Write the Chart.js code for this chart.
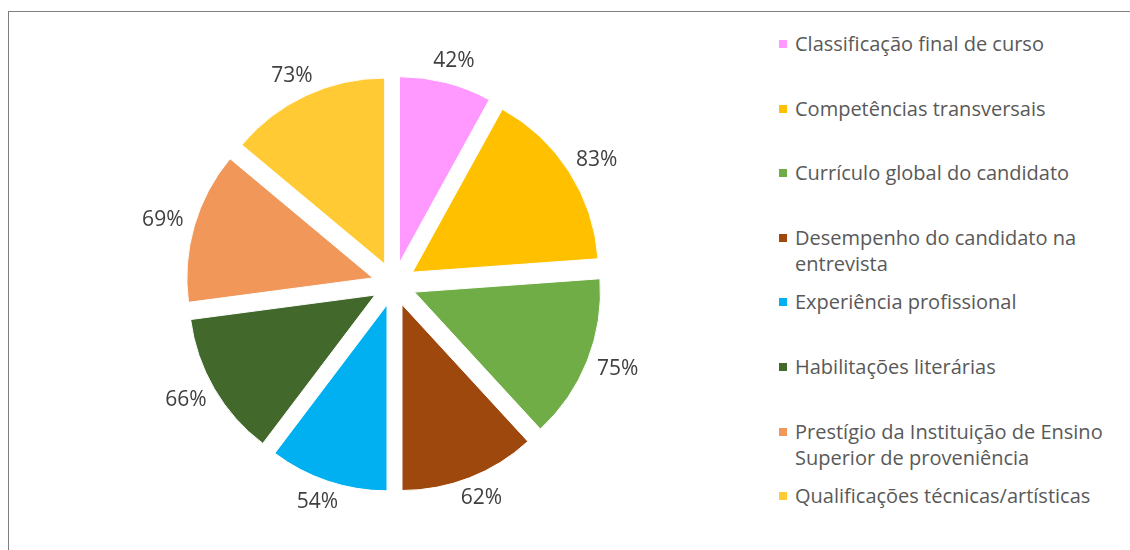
<!DOCTYPE html>
<html>
<head>
<meta charset="utf-8">
<script src="https://cdn.jsdelivr.net/npm/chart.js@4"></script>
<style>
    html, body {
        margin: 0;
        padding: 0;
        width: 1130px;
        height: 550px;
        overflow: hidden;
        background: #fff;
    }
    #frame {
        position: absolute;
        left: 8px;
        top: 11px;
        width: 1300px;
        height: 700px;
        border: 1px solid #7f7f7f;
    }
    #chart-box {
        position: absolute;
        left: 14px;
        top: 34px;
        width: 760px;
        height: 500px;
    }
    #legend-container {
        position: absolute;
        left: 779px;
        top: 31px;
        width: 335px;
        font-family: "Open Sans", sans-serif;
        font-size: 20px;
        line-height: 26px;
        color: #595959;
    }
    .legend-item {
        position: relative;
        height: 64.6px;
        padding-left: 16px;
    }
    .color-box {
        position: absolute;
        left: 0;
        top: 9px;
        width: 8px;
        height: 8px;
    }
</style>
</head>
<body>
<div id="frame"></div>
<div id="chart-box"><canvas id="myChart"></canvas></div>
<div id="legend-container"></div>
<script>
const categories = [
    'Classificação final de curso',
    'Competências transversais',
    'Currículo global do candidato',
    'Desempenho do candidato na entrevista',
    'Experiência profissional',
    'Habilitações literárias',
    'Prestígio da Instituição de Ensino Superior de proveniência',
    'Qualificações técnicas/artísticas'
];
const values = [42, 83, 75, 62, 54, 66, 69, 73];
const colors = ['#FF99FF', '#FFC000', '#70AD47', '#9E480E', '#00B0F0', '#43682B', '#F1975A', '#FFCA33'];

// how far each slice is pulled out from the centre (px)
const explode = 22;

// draw the slices pulled out along their middle angle, keeping the radius
const explodedSlices = {
    id: 'explodedSlices',
    beforeDatasetDraw(chart, args) {
        const ctx = chart.ctx;
        args.meta.data.forEach(arc => {
            const mid = (arc.startAngle + arc.endAngle) / 2;
            ctx.save();
            ctx.translate(Math.cos(mid) * explode, Math.sin(mid) * explode);
            arc.draw(ctx);
            ctx.restore();
        });
        return false;
    }
};

// percentages drawn just outside each slice, box pushed away from the pie
const outsideLabels = {
    id: 'outsideLabels',
    afterDatasetsDraw(chart) {
        const ctx = chart.ctx;
        const meta = chart.getDatasetMeta(0);
        ctx.save();
        ctx.font = '21px "Open Sans", sans-serif';
        ctx.fillStyle = '#404040';
        ctx.textAlign = 'center';
        ctx.textBaseline = 'middle';
        meta.data.forEach((arc, i) => {
            const p = arc.getProps(['x', 'y', 'startAngle', 'endAngle', 'outerRadius'], true);
            const mid = (p.startAngle + p.endAngle) / 2;
            const text = values[i] + '%';
            const hw = ctx.measureText(text).width / 2;
            const hh = 10;
            const cx = Math.cos(mid), sy = Math.sin(mid);
            const d = p.outerRadius + explode + 12;
            ctx.fillText(text, p.x + cx * d + cx * hw, p.y + sy * d + sy * hh);
        });
        ctx.restore();
    }
};

const ctx = document.getElementById('myChart').getContext('2d');

const myChart = new Chart(ctx, {
    type: 'pie',
    data: {
        labels: categories,
        datasets: [{
            data: values,
            backgroundColor: colors,
            borderColor: '#ffffff',
            borderWidth: 1
        }]
    },
    options: {
        responsive: true,
        maintainAspectRatio: false,
        animation: false,
        radius: 186,
        events: [],
        plugins: {
            legend: { display: false },
            tooltip: { enabled: false }
        },
        layout: { padding: 0 }
    },
    plugins: [explodedSlices, outsideLabels]
});

// Custom legend
function createCustomLegend() {
    const legendContainer = document.getElementById('legend-container');
    legendContainer.innerHTML = '';
    categories.forEach((label, index) => {
        const legendItem = document.createElement('div');
        legendItem.classList.add('legend-item');

        const colorBox = document.createElement('span');
        colorBox.classList.add('color-box');
        colorBox.style.backgroundColor = colors[index];

        const labelSpan = document.createElement('span');
        labelSpan.textContent = label;

        legendItem.appendChild(colorBox);
        legendItem.appendChild(labelSpan);
        legendContainer.appendChild(legendItem);
    });
}

createCustomLegend();
</script>
</body>
</html>
